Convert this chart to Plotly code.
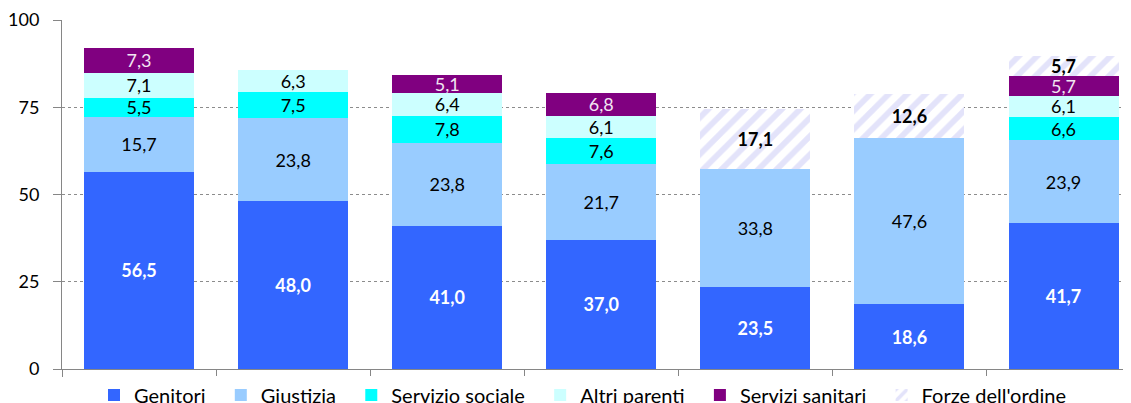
import plotly.graph_objects as go

# one bar per group, category labels are blank in the source chart
categories = ["0", "1", "2", "3", "4", "5", "6"]

genitori = [56.5, 48.0, 41.0, 37.0, 23.5, 18.6, 41.7]
giustizia = [15.7, 23.8, 23.8, 21.7, 33.8, 47.6, 23.9]
servizio_sociale = [5.5, 7.5, 7.8, 7.6, None, None, 6.6]
altri_parenti = [7.1, 6.3, 6.4, 6.1, None, None, 6.1]
servizi_sanitari = [7.3, None, 5.1, 6.8, None, None, 5.7]
forze_ordine = [None, None, None, None, 17.1, 12.6, 5.7]

yticks = [0, 25, 50, 75, 100]

FONT = "Lato, Carlito, sans-serif"
PAD = "\u00a0\u00a0"  # widen legend entries a bit, like the excel legend

series = [
    ("Genitori", genitori, "#3366FF", "white", True),
    ("Giustizia", giustizia, "#99CCFF", "black", False),
    ("Servizio sociale", servizio_sociale, "#00FFFF", "black", False),
    ("Altri parenti", altri_parenti, "#CCFFFF", "black", False),
    ("Servizi sanitari", servizi_sanitari, "#800080", "#F2E6F2", False),
]

fig = go.Figure()
for name, vals, col, tcol, bold in series:
    fig.add_trace(go.Bar(
        x=categories, y=vals, name=name + PAD,
        marker=dict(color=col, line=dict(width=0)),
        texttemplate="<b>%{y:.1f}</b>" if bold else "%{y:.1f}",
        textposition="inside", insidetextanchor="middle",
        textangle=0, constraintext="none",
        textfont=dict(color=tcol, size=18, family=FONT),
        hoverinfo="skip",
    ))

fig.add_trace(go.Bar(
    x=categories, y=forze_ordine, name="Forze dell'ordine",
    marker=dict(color="white", line=dict(width=0),
                pattern=dict(shape="/", fgcolor="#C8C8F6", bgcolor="white",
                             size=13, solidity=0.45)),
    texttemplate="<b>%{y:.1f}</b>",
    textposition="inside", insidetextanchor="middle",
    textangle=0, constraintext="none",
    textfont=dict(color="black", size=18, family=FONT),
    hoverinfo="skip",
))

# the page body has an 8px margin, so the margins below are 8px smaller
fig.update_layout(
    barmode="stack",
    bargap=0.286,
    width=1131, height=403,
    margin=dict(l=54, r=0, t=12, b=42, autoexpand=False),
    paper_bgcolor="white", plot_bgcolor="white",
    separators=",.",
    font=dict(family=FONT, size=18, color="black"),
    legend=dict(orientation="h", xref="container", yref="container",
                x=86 / 1131, xanchor="left", y=0.088, yanchor="top",
                font=dict(size=20), itemwidth=30, traceorder="normal"),
)
fig.update_xaxes(
    type="category", range=[-0.5, 6.49], automargin=False,
    showline=True, linecolor="#868686", linewidth=1,
    ticks="outside", tickson="boundaries", ticklen=7, tickcolor="#868686",
    showticklabels=False, showgrid=False,
)
fig.update_yaxes(
    range=[0, 100], tickvals=yticks, automargin=False,
    showline=True, linecolor="#868686", linewidth=1,
    ticks="outside", ticklen=8, tickcolor="#868686", ticklabelstandoff=10,
    showgrid=True, gridcolor="#8C8C8C", griddash="dot", gridwidth=1,
    zeroline=False, tickfont=dict(size=18, family=FONT),
)

fig.write_html("out.html")
